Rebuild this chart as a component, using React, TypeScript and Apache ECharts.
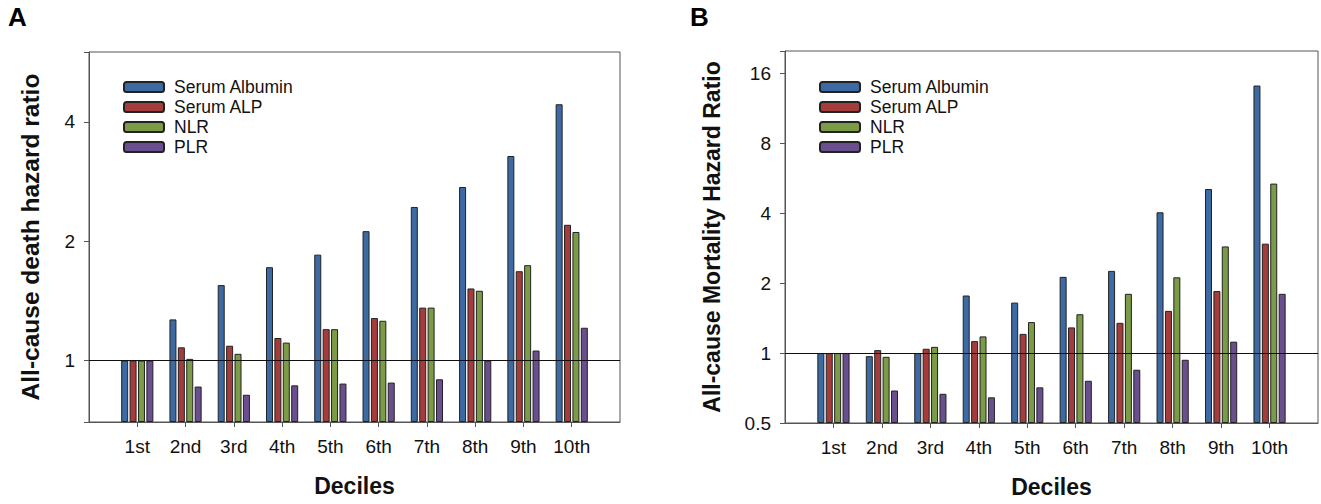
import React, { useEffect, useRef } from "react";
import * as echarts from "echarts";

const deciles = ["", "1st", "2nd", "3rd", "4th", "5th", "6th", "7th", "8th", "9th", "10th", ""];
const seriesNames = ["Serum Albumin", "Serum ALP", "NLR", "PLR"];
const colors = ["#3d6aa3", "#a43c3c", "#7c9b47", "#6a4f8e"];

// Panel A: All-cause death hazard ratio
const albuminA = [1.0, 1.27, 1.55, 1.72, 1.85, 2.12, 2.44, 2.74, 3.28, 4.43];
const alpA = [1.0, 1.08, 1.09, 1.14, 1.2, 1.28, 1.36, 1.52, 1.68, 2.2];
const nlrA = [1.0, 1.01, 1.04, 1.11, 1.2, 1.26, 1.36, 1.5, 1.74, 2.11];
const plrA = [1.0, 0.86, 0.82, 0.866, 0.875, 0.88, 0.897, 1.0, 1.06, 1.21];

// Panel B: All-cause mortality hazard ratio
const albuminB = [1.0, 0.97, 1.0, 1.77, 1.65, 2.13, 2.26, 4.04, 5.09, 14.2];
const alpB = [1.0, 1.03, 1.044, 1.126, 1.21, 1.29, 1.35, 1.52, 1.85, 2.96];
const nlrB = [1.0, 0.964, 1.064, 1.18, 1.36, 1.47, 1.8, 2.12, 2.88, 5.37];
const plrB = [1.0, 0.69, 0.668, 0.645, 0.712, 0.76, 0.848, 0.936, 1.12, 1.8];

const ticksA = [1, 2, 4];
const ticksB = [0.5, 1, 2, 4, 8, 16];

const FONT = "'Liberation Sans', Arial, Helvetica, sans-serif";

function pad(vals: number[]) {
  return [null, ...vals, null];
}

export default function App() {
  const ref = useRef<HTMLDivElement>(null);
  useEffect(() => {
    if (!ref.current) return;
    const chart = echarts.init(ref.current, undefined, { renderer: "svg" });

    const labelFmt = (allowed: number[]) => (v: number) => {
      const r = Number(v.toPrecision(6));
      return allowed.some((a) => Math.abs(a - r) < 1e-6) ? String(r) : "";
    };

    const xAxisBase = (gridIndex: number) => ({
      type: "category",
      gridIndex,
      data: deciles,
      boundaryGap: false,
      name: "Deciles",
      nameLocation: "middle",
      nameGap: 52,
      nameTextStyle: { fontSize: 23, fontWeight: "bold", color: "#111", fontFamily: FONT },
      axisLine: { show: true, lineStyle: { color: "#555", width: 1 } },
      axisTick: {
        show: true,
        length: 5,
        interval: (i: number) => i > 0 && i < deciles.length - 1,
        lineStyle: { color: "#555" },
      },
      axisLabel: { interval: 0, fontSize: 19, color: "#111", margin: 15, fontFamily: FONT },
      splitLine: { show: false },
    });

    const yAxisBase = (gridIndex: number, min: number, max: number, name: string, nameGap: number, fs: number, ticks: number[]) => ({
      type: "log",
      logBase: 2,
      gridIndex,
      min,
      max,
      startValue: min,
      name,
      nameLocation: "middle",
      nameGap,
      nameTextStyle: { fontSize: fs, fontWeight: "bold", color: "#111", fontFamily: FONT },
      axisLine: { show: true, lineStyle: { color: "#555", width: 1 } },
      axisTick: { show: true, length: 5, lineStyle: { color: "#555" } },
      axisLabel: { fontSize: 19, color: "#111", margin: 14, fontFamily: FONT, formatter: labelFmt(ticks) },
      splitLine: { show: false },
    });

    const dataA = [albuminA, alpA, nlrA, plrA];
    const dataB = [albuminB, alpB, nlrB, plrB];

    const mkSeries = (data: number[][], idx: number) =>
      data.map((vals, k) => ({
        type: "bar",
        name: seriesNames[k],
        xAxisIndex: idx,
        yAxisIndex: idx,
        data: pad(vals),
        barWidth: 7,
        barGap: "20%",
        itemStyle: { color: colors[k], borderColor: "#222", borderWidth: 1 },
        ...(k === 0
          ? {
              markLine: {
                silent: true,
                symbol: "none",
                label: { show: false },
                lineStyle: { color: "#111", width: 1, type: "solid" },
                data: [{ yAxis: 1 }],
              },
            }
          : {}),
      }));

    const legendBase = (left: number) => ({
      orient: "vertical",
      left,
      top: 77,
      padding: 0,
      itemGap: 0,
      itemWidth: 40,
      itemHeight: 10,
      data: seriesNames,
      selectedMode: false,
      textStyle: { fontSize: 17.5, color: "#111", fontFamily: FONT, lineHeight: 20, padding: [0, 0, 0, 5] },
    });

    chart.setOption({
      animation: false,
      backgroundColor: "#fff",
      title: [
        { text: "A", left: 8, top: 4, padding: 0, textStyle: { fontSize: 26, fontWeight: "bold", color: "#000", fontFamily: FONT } },
        { text: "B", left: 690, top: 4, padding: 0, textStyle: { fontSize: 26, fontWeight: "bold", color: "#000", fontFamily: FONT } },
      ],
      legend: [legendBase(123), legendBase(819)],
      grid: [
        { left: 89, top: 52, width: 531, height: 370, show: true, borderColor: "#555", borderWidth: 1, backgroundColor: "transparent" },
        { left: 785, top: 51, width: 533, height: 372, show: true, borderColor: "#555", borderWidth: 1, backgroundColor: "transparent" },
      ],
      xAxis: [xAxisBase(0), xAxisBase(1)],
      yAxis: [
        yAxisBase(0, 0.7, 6, "All-cause death hazard ratio", 46, 24.5, ticksA),
        yAxisBase(1, 0.5, 20, "All-cause Mortality Hazard Ratio", 62, 23, ticksB),
      ],
      series: [...mkSeries(dataA, 0), ...mkSeries(dataB, 1)],
    });

    return () => chart.dispose();
  }, []);

  return (
    <div
      ref={ref}
      style={{ position: "fixed", left: 0, top: 0, width: 1321, height: 504, background: "#fff" }}
    />
  );
}
